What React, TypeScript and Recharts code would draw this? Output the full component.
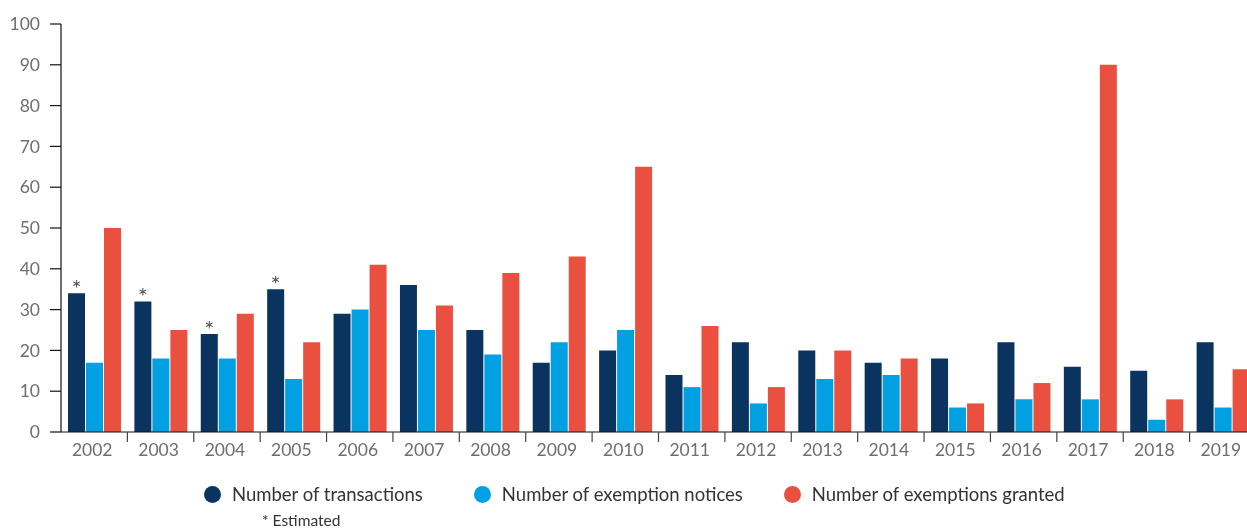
import { BarChart, Bar, XAxis, YAxis, Legend, LabelList } from 'recharts';

const years = ['2002', '2003', '2004', '2005', '2006', '2007', '2008', '2009', '2010', '2011', '2012', '2013', '2014', '2015', '2016', '2017', '2018', '2019'];
const transactions = [34, 32, 24, 35, 29, 36, 25, 17, 20, 14, 22, 20, 17, 18, 22, 16, 15, 22];
const notices = [17, 18, 18, 13, 30, 25, 19, 22, 25, 11, 7, 13, 14, 6, 8, 8, 3, 6];
const granted = [50, 25, 29, 22, 41, 31, 39, 43, 65, 26, 11, 20, 18, 7, 12, 90, 8, 15.4];
const estimated = [true, true, true, true, false, false, false, false, false, false, false, false, false, false, false, false, false, false];
const yTicks = [0, 10, 20, 30, 40, 50, 60, 70, 80, 90, 100];

const seriesKeys = ['transactions', 'notices', 'granted'];
const seriesNames = ['Number of transactions', 'Number of exemption notices', 'Number of exemptions granted'];
const seriesColors = ['#0B3360', '#00A0E2', '#E9503F'];

const data = years.map((year, i) => ({
  year,
  transactions: transactions[i],
  notices: notices[i],
  granted: granted[i],
  mark: estimated[i] ? '*' : '',
}));

const FONT = 'Lato, "Open Sans", sans-serif';
const TICK_COLOR = '#6e6e6e';

function YearTick(props: any) {
  const { x, y, payload, index, width, visibleTicksCount } = props;
  const band = width / visibleTicksCount;
  return (
    <g>
      {index > 0 && (
        <line x1={x - band / 2} x2={x - band / 2} y1={y} y2={y + 10} stroke="#444" strokeWidth={1.2} />
      )}
      <text x={x - 2} y={y + 24} textAnchor="middle" fill={TICK_COLOR} fontSize={17.5} fontFamily={FONT}>
        {payload.value}
      </text>
    </g>
  );
}

function renderLegend() {
  const gaps = [51, 41, 0];
  return (
    <div style={{ fontFamily: FONT, color: '#333' }}>
      <div style={{ display: 'flex', alignItems: 'center', paddingLeft: 196, height: 22 }}>
        {seriesNames.map((name, i) => (
          <div key={name} style={{ display: 'flex', alignItems: 'center', marginRight: gaps[i] }}>
            <span style={{ width: 17, height: 17, borderRadius: '50%', background: seriesColors[i], display: 'inline-block', marginRight: 11 }} />
            <span style={{ fontSize: 18.5, whiteSpace: 'nowrap' }}>{name}</span>
          </div>
        ))}
      </div>
      <div style={{ paddingLeft: 254, fontSize: 15.5, marginTop: 6, lineHeight: '18px' }}>* Estimated</div>
    </div>
  );
}

export default function App() {
  return (
    <div style={{ position: 'fixed', top: 8, left: 8, width: 1239, height: 520, overflow: 'hidden' }}>
      <BarChart
        width={1248}
        height={520}
        data={data}
        margin={{ top: 16, right: 0, left: 0, bottom: 66 }}
        barSize={17}
        barGap={1}
      >
        <XAxis
          dataKey="year"
          height={30}
          tickSize={0}
          tickMargin={0}
          tickLine={false}
          axisLine={{ stroke: '#111', strokeWidth: 1.2 }}
          tick={<YearTick />}
          interval={0}
        />
        <YAxis
          width={53}
          domain={[0, 100]}
          ticks={yTicks}
          tickSize={11}
          tickMargin={10}
          tickLine={{ stroke: '#111', strokeWidth: 1.2 }}
          axisLine={{ stroke: '#111', strokeWidth: 1.2 }}
          tick={{ fill: TICK_COLOR, fontSize: 17.5, fontFamily: FONT }}
        />
        <Legend
          layout="horizontal"
          verticalAlign="middle"
          align="center"
          content={renderLegend}
          wrapperStyle={{ top: 475, left: 0, width: 1248 }}
        />
        {seriesKeys.map((key, i) => (
          <Bar key={key} dataKey={key} name={seriesNames[i]} fill={seriesColors[i]} isAnimationActive={false}>
            {i === 0 && (
              <LabelList dataKey="mark" position="top" offset={-4} fill="#555" fontSize={24} fontFamily={FONT} />
            )}
          </Bar>
        ))}
      </BarChart>
    </div>
  );
}
